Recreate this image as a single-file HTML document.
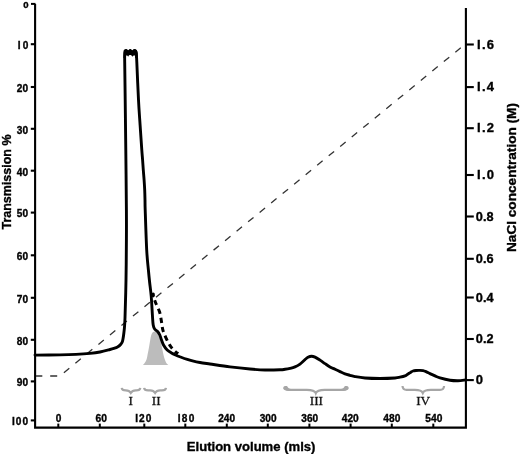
<!DOCTYPE html>
<html><head><meta charset="utf-8"><style>
html,body{margin:0;padding:0;background:#fff;width:520px;height:454px;overflow:hidden;}
svg{display:block;font-family:"Liberation Sans",sans-serif;will-change:transform;}
</style></head><body>
<svg width="520" height="454" viewBox="0 0 520 454">
<path d="M35.1,4 V427.6 H465.9 V8" fill="none" stroke="#000" stroke-width="2.1" stroke-linejoin="miter"/>
<path d="M31,3.9 H35.5" stroke="#000" stroke-width="2"/>
<path d="M30.8,44.2 H35" stroke="#000" stroke-width="2.1"/>
<path d="M30.8,87.0 H35" stroke="#000" stroke-width="2.1"/>
<path d="M30.8,128.8 H35" stroke="#000" stroke-width="2.1"/>
<path d="M30.8,170.7 H35" stroke="#000" stroke-width="2.1"/>
<path d="M30.8,212.6 H35" stroke="#000" stroke-width="2.1"/>
<path d="M30.8,255.3 H35" stroke="#000" stroke-width="2.1"/>
<path d="M30.8,297.8 H35" stroke="#000" stroke-width="2.1"/>
<path d="M30.8,339.8 H35" stroke="#000" stroke-width="2.1"/>
<path d="M30.8,381.4 H35" stroke="#000" stroke-width="2.1"/>
<path d="M30.8,420.4 H35" stroke="#000" stroke-width="2.1"/>
<path d="M58.3,427 V423.6" stroke="#000" stroke-width="2"/>
<path d="M99.8,427 V423.6" stroke="#000" stroke-width="2"/>
<path d="M144.3,427 V423.6" stroke="#000" stroke-width="2"/>
<path d="M185.3,427 V423.6" stroke="#000" stroke-width="2"/>
<path d="M226.8,427 V423.6" stroke="#000" stroke-width="2"/>
<path d="M267.8,427 V423.6" stroke="#000" stroke-width="2"/>
<path d="M309.4,427 V423.6" stroke="#000" stroke-width="2"/>
<path d="M350.6,427 V423.6" stroke="#000" stroke-width="2"/>
<path d="M391.8,427 V423.6" stroke="#000" stroke-width="2"/>
<path d="M433.3,427 V423.6" stroke="#000" stroke-width="2"/>
<path d="M466,44.5 H473.8" stroke="#000" stroke-width="2.1"/>
<path d="M466,87.1 H473.8" stroke="#000" stroke-width="2.1"/>
<path d="M466,128.2 H473.8" stroke="#000" stroke-width="2.1"/>
<path d="M466,175.0 H473.8" stroke="#000" stroke-width="2.1"/>
<path d="M466,216.5 H473.8" stroke="#000" stroke-width="2.1"/>
<path d="M466,258.8 H473.8" stroke="#000" stroke-width="2.1"/>
<path d="M466,297.5 H473.8" stroke="#000" stroke-width="2.1"/>
<path d="M466,339.0 H473.8" stroke="#000" stroke-width="2.1"/>
<path d="M466,380.1 H473.8" stroke="#000" stroke-width="2.1"/>
<text x="28.7" y="7.9" font-family="Liberation Sans" font-weight="bold" stroke="#000" stroke-width="0.35" font-size="9.6" text-anchor="end">0</text>
<text x="17.65" y="49.00" font-family="Liberation Sans" font-weight="bold" stroke="#000" stroke-width="0.35" font-size="10.1" textLength="10.60" lengthAdjust="spacing">I0</text>
<text x="28.1" y="91.8" font-family="Liberation Sans" font-weight="bold" stroke="#000" stroke-width="0.35" font-size="10.1" text-anchor="end">20</text>
<text x="28.1" y="133.6" font-family="Liberation Sans" font-weight="bold" stroke="#000" stroke-width="0.35" font-size="10.1" text-anchor="end">30</text>
<text x="28.1" y="175.5" font-family="Liberation Sans" font-weight="bold" stroke="#000" stroke-width="0.35" font-size="10.1" text-anchor="end">40</text>
<text x="28.1" y="217.4" font-family="Liberation Sans" font-weight="bold" stroke="#000" stroke-width="0.35" font-size="10.1" text-anchor="end">50</text>
<text x="28.1" y="260.1" font-family="Liberation Sans" font-weight="bold" stroke="#000" stroke-width="0.35" font-size="10.1" text-anchor="end">60</text>
<text x="28.1" y="302.6" font-family="Liberation Sans" font-weight="bold" stroke="#000" stroke-width="0.35" font-size="10.1" text-anchor="end">70</text>
<text x="28.1" y="344.6" font-family="Liberation Sans" font-weight="bold" stroke="#000" stroke-width="0.35" font-size="10.1" text-anchor="end">80</text>
<text x="28.1" y="386.2" font-family="Liberation Sans" font-weight="bold" stroke="#000" stroke-width="0.35" font-size="10.1" text-anchor="end">90</text>
<text x="11.95" y="425.20" font-family="Liberation Sans" font-weight="bold" stroke="#000" stroke-width="0.35" font-size="10.1" textLength="16.10" lengthAdjust="spacing">I00</text>
<text x="55.85" y="421.8" font-family="Liberation Sans" font-weight="bold" stroke="#000" stroke-width="0.35" font-size="10.1">0</text>
<text x="95.55" y="421.80" font-family="Liberation Sans" font-weight="bold" stroke="#000" stroke-width="0.35" font-size="10.1" textLength="11.40" lengthAdjust="spacingAndGlyphs">60</text>
<text x="135.15" y="421.80" font-family="Liberation Sans" font-weight="bold" stroke="#000" stroke-width="0.35" font-size="10.1" textLength="16.10" lengthAdjust="spacing">I20</text>
<text x="177.65" y="421.80" font-family="Liberation Sans" font-weight="bold" stroke="#000" stroke-width="0.35" font-size="10.1" textLength="16.70" lengthAdjust="spacing">I80</text>
<text x="218.25" y="421.80" font-family="Liberation Sans" font-weight="bold" stroke="#000" stroke-width="0.35" font-size="10.1" textLength="16.80" lengthAdjust="spacingAndGlyphs">240</text>
<text x="259.75" y="421.80" font-family="Liberation Sans" font-weight="bold" stroke="#000" stroke-width="0.35" font-size="10.1" textLength="16.80" lengthAdjust="spacingAndGlyphs">300</text>
<text x="301.35" y="421.80" font-family="Liberation Sans" font-weight="bold" stroke="#000" stroke-width="0.35" font-size="10.1" textLength="16.80" lengthAdjust="spacingAndGlyphs">360</text>
<text x="341.75" y="421.80" font-family="Liberation Sans" font-weight="bold" stroke="#000" stroke-width="0.35" font-size="10.1" textLength="17.00" lengthAdjust="spacingAndGlyphs">420</text>
<text x="383.35" y="421.80" font-family="Liberation Sans" font-weight="bold" stroke="#000" stroke-width="0.35" font-size="10.1" textLength="17.00" lengthAdjust="spacingAndGlyphs">480</text>
<text x="425.35" y="421.80" font-family="Liberation Sans" font-weight="bold" stroke="#000" stroke-width="0.35" font-size="10.1" textLength="17.00" lengthAdjust="spacingAndGlyphs">540</text>
<text x="477.07" y="48.60" font-family="Liberation Sans" font-weight="bold" stroke="#000" stroke-width="0.35" font-size="13.0" textLength="17.02" lengthAdjust="spacing">I.6</text>
<text x="477.07" y="91.20" font-family="Liberation Sans" font-weight="bold" stroke="#000" stroke-width="0.35" font-size="13.0" textLength="17.02" lengthAdjust="spacing">I.4</text>
<text x="477.07" y="132.30" font-family="Liberation Sans" font-weight="bold" stroke="#000" stroke-width="0.35" font-size="13.0" textLength="17.02" lengthAdjust="spacing">I.2</text>
<text x="477.07" y="179.10" font-family="Liberation Sans" font-weight="bold" stroke="#000" stroke-width="0.35" font-size="13.0" textLength="17.02" lengthAdjust="spacing">I.0</text>
<text x="475.85" y="220.60" font-family="Liberation Sans" font-weight="bold" stroke="#000" stroke-width="0.35" font-size="13.0" textLength="17.70" lengthAdjust="spacingAndGlyphs">0.8</text>
<text x="475.85" y="262.90" font-family="Liberation Sans" font-weight="bold" stroke="#000" stroke-width="0.35" font-size="13.0" textLength="17.70" lengthAdjust="spacingAndGlyphs">0.6</text>
<text x="475.85" y="301.60" font-family="Liberation Sans" font-weight="bold" stroke="#000" stroke-width="0.35" font-size="13.0" textLength="17.70" lengthAdjust="spacingAndGlyphs">0.4</text>
<text x="475.85" y="343.10" font-family="Liberation Sans" font-weight="bold" stroke="#000" stroke-width="0.35" font-size="13.0" textLength="17.70" lengthAdjust="spacingAndGlyphs">0.2</text>
<text x="475.8" y="384.2" font-family="Liberation Sans" font-weight="bold" stroke="#000" stroke-width="0.35" font-size="13.0">0</text>
<text transform="translate(10.8,229.5) rotate(-90)" font-family="Liberation Sans" font-weight="bold" stroke="#000" stroke-width="0.35" font-size="13" textLength="95" lengthAdjust="spacingAndGlyphs">Transmission %</text>
<text transform="translate(515.9,252) rotate(-90)" font-family="Liberation Sans" font-weight="bold" stroke="#000" stroke-width="0.35" font-size="13" textLength="149" lengthAdjust="spacingAndGlyphs">NaCl concentration (M)</text>
<text x="186.8" y="450.5" font-family="Liberation Sans" font-weight="bold" stroke="#000" stroke-width="0.35" font-size="13" textLength="128.6" lengthAdjust="spacingAndGlyphs">Elution volume (mls)</text>
<path d="M36,376 L59.8,376 L465,44.3" fill="none" stroke="#333" stroke-width="1.3" stroke-dasharray="7 7.88" stroke-dashoffset="0.68"/>
<path d="M143.00,365.00 C143.33,364.60 144.38,363.60 145.00,362.60 C145.62,361.60 146.27,360.37 146.70,359.00 C147.13,357.63 147.30,355.90 147.60,354.40 C147.90,352.90 148.20,351.57 148.50,350.00 C148.80,348.43 149.10,346.75 149.40,345.00 C149.70,343.25 149.98,341.17 150.30,339.50 C150.62,337.83 150.88,336.20 151.30,335.00 C151.72,333.80 152.25,332.88 152.80,332.30 C153.35,331.72 153.97,331.50 154.60,331.50 C155.23,331.50 155.93,331.72 156.60,332.30 C157.27,332.88 158.02,333.88 158.60,335.00 C159.18,336.12 159.67,337.58 160.10,339.00 C160.53,340.42 160.85,341.92 161.20,343.50 C161.55,345.08 161.88,346.92 162.20,348.50 C162.52,350.08 162.78,351.53 163.10,353.00 C163.42,354.47 163.72,355.97 164.10,357.30 C164.48,358.63 164.97,359.95 165.40,361.00 C165.83,362.05 166.22,362.93 166.70,363.60 C167.18,364.27 168.03,364.77 168.30,365.00 Z" fill="#bcbcbc"/>
<path d="M35.00,355.10 C39.17,355.07 53.17,355.02 60.00,354.90 C66.83,354.78 71.00,354.65 76.00,354.40 C81.00,354.15 86.00,353.80 90.00,353.40 C94.00,353.00 96.67,352.65 100.00,352.00 C103.33,351.35 107.67,350.12 110.00,349.50 C112.33,348.88 112.75,348.73 114.00,348.30 C115.25,347.87 116.40,347.53 117.50,346.90 C118.60,346.27 119.75,345.52 120.60,344.50 C121.45,343.48 122.00,343.22 122.60,340.80 C123.20,338.38 123.80,333.80 124.20,330.00 C124.60,326.20 124.70,326.33 125.00,318.00 C125.30,309.67 125.77,293.00 126.00,280.00 C126.23,267.00 126.33,251.67 126.40,240.00 C126.47,228.33 126.50,225.00 126.40,210.00 C126.30,195.00 126.00,168.33 125.80,150.00 C125.60,131.67 125.38,114.67 125.20,100.00 C125.02,85.33 124.78,69.33 124.70,62.00 C124.62,54.67 124.70,57.00 124.70,56.00 C124.7,52.5 125,50.6 126.2,50.6 C127.3,50.6 127.7,53.6 128.2,53.6 C128.8,53.6 129.2,50.6 130.2,50.6 C131.3,50.6 131.7,53.6 132.3,53.6 C132.9,53.6 133.3,50.6 134.4,50.6 C135.8,50.6 136.5,52.5 136.5,56 C136.55,57.00 136.47,54.67 136.80,62.00 C137.13,69.33 137.95,89.50 138.50,100.00 C139.05,110.50 139.55,116.67 140.10,125.00 C140.65,133.33 141.38,144.17 141.80,150.00 C142.22,155.83 142.35,156.67 142.60,160.00 C142.85,163.33 143.05,166.67 143.30,170.00 C143.55,173.33 143.87,176.67 144.10,180.00 C144.33,183.33 144.55,186.67 144.70,190.00 C144.85,193.33 144.92,196.67 145.00,200.00 C145.08,203.33 144.92,201.67 145.20,210.00 C145.48,218.33 146.17,240.00 146.70,250.00 C147.23,260.00 147.92,264.67 148.40,270.00 C148.88,275.33 149.13,277.67 149.60,282.00 C150.07,286.33 150.73,290.50 151.20,296.00 C151.67,301.50 152.07,310.17 152.40,315.00 C152.73,319.83 152.80,322.62 153.20,325.00 C153.60,327.38 154.07,328.22 154.80,329.30 C155.53,330.38 156.77,330.55 157.60,331.50 C158.43,332.45 159.15,333.58 159.80,335.00 C160.45,336.42 160.88,338.33 161.50,340.00 C162.12,341.67 162.55,343.33 163.50,345.00 C164.45,346.67 165.87,348.67 167.20,350.00 C168.53,351.33 170.12,352.17 171.50,353.00 C172.88,353.83 174.00,354.33 175.50,355.00 C177.00,355.67 178.53,356.27 180.50,357.00 C182.47,357.73 185.13,358.70 187.30,359.40 C189.47,360.10 191.38,360.68 193.50,361.20 C195.62,361.72 197.25,362.03 200.00,362.50 C202.75,362.97 205.00,363.27 210.00,364.00 C215.00,364.73 223.33,366.07 230.00,366.90 C236.67,367.73 244.17,368.48 250.00,369.00 C255.83,369.52 260.00,369.87 265.00,370.00 C270.00,370.13 276.67,369.92 280.00,369.80 C283.33,369.68 283.33,369.53 285.00,369.30 C286.67,369.07 288.33,368.80 290.00,368.40 C291.67,368.00 293.33,367.62 295.00,366.90 C296.67,366.18 298.33,365.32 300.00,364.10 C301.67,362.88 303.67,360.73 305.00,359.60 C306.33,358.47 306.92,357.87 308.00,357.30 C309.08,356.73 310.33,356.23 311.50,356.20 C312.67,356.17 313.58,356.45 315.00,357.10 C316.42,357.75 318.33,359.02 320.00,360.10 C321.67,361.18 323.33,362.47 325.00,363.60 C326.67,364.73 328.33,365.95 330.00,366.90 C331.67,367.85 333.33,368.52 335.00,369.30 C336.67,370.08 338.33,370.85 340.00,371.60 C341.67,372.35 343.33,373.18 345.00,373.80 C346.67,374.42 348.33,374.83 350.00,375.30 C351.67,375.77 352.50,376.15 355.00,376.60 C357.50,377.05 360.83,377.68 365.00,378.00 C369.17,378.32 375.00,378.50 380.00,378.50 C385.00,378.50 391.67,378.22 395.00,378.00 C398.33,377.78 398.33,377.55 400.00,377.20 C401.67,376.85 403.67,376.43 405.00,375.90 C406.33,375.37 407.08,374.58 408.00,374.00 C408.92,373.42 409.67,372.90 410.50,372.40 C411.33,371.90 412.08,371.32 413.00,371.00 C413.92,370.68 414.83,370.60 416.00,370.50 C417.17,370.40 418.83,370.37 420.00,370.40 C421.17,370.43 422.00,370.48 423.00,370.70 C424.00,370.92 424.83,371.22 426.00,371.70 C427.17,372.18 428.50,372.90 430.00,373.60 C431.50,374.30 433.33,375.18 435.00,375.90 C436.67,376.62 437.50,377.18 440.00,377.90 C442.50,378.62 447.00,379.73 450.00,380.20 C453.00,380.67 455.42,380.73 458.00,380.70 C460.58,380.67 464.25,380.12 465.50,380.00" fill="none" stroke="#000" stroke-width="2.9" stroke-linejoin="round" stroke-linecap="round"/>
<path d="M123.5,58 L123.5,52 C123.5,50 124.5,49.1 126.1,49.1 C127.3,49.1 127.8,50.4 128.2,50.4 C128.6,50.4 129.1,49.1 130.2,49.1 C131.3,49.1 131.9,50.4 132.3,50.4 C132.7,50.4 133.2,49.1 134.4,49.1 C136.3,49.1 137.6,50.5 137.6,53 L137.8,58 L135.2,58 L135.1,55.6 C134.2,55.3 133,55.6 132.3,56.7 C131.6,55.4 130.8,55.1 130.2,55.1 C129.5,55.1 128.8,55.4 128.2,56.7 C127.6,55.5 126.8,55.3 126.0,55.6 L126.0,58 Z" fill="#000"/>
<path d="M153.00,295.50 C153.43,296.70 154.50,299.95 155.60,302.70 C156.70,305.45 158.63,308.92 159.60,312.00 C160.57,315.08 160.85,318.18 161.40,321.20 C161.95,324.22 162.10,327.25 162.90,330.10 C163.70,332.95 164.92,335.60 166.20,338.30 C167.48,341.00 169.05,344.05 170.60,346.30 C172.15,348.55 174.22,350.58 175.50,351.80 C176.78,353.02 177.83,353.30 178.30,353.60" fill="none" stroke="#000" stroke-width="3" stroke-dasharray="5.3 4" stroke-dashoffset="4.3"/>
<ellipse cx="153.2" cy="295" rx="1.7" ry="2.4" fill="#000"/>
<path d="M121.70,387.80 Q122.00,390.40 125.80,390.40 L125.80,390.40 C128.80,390.40 129.80,391.20 130.80,392.80 C131.80,391.20 132.80,390.40 135.80,390.40 L136.20,390.40 Q140.00,390.40 140.30,387.80" fill="none" stroke="#a6a6a6" stroke-width="2.2"/>
<path d="M144.10,387.80 Q144.40,390.40 148.20,390.40 L150.10,390.40 C153.10,390.40 154.10,391.20 155.10,392.80 C156.10,391.20 157.10,390.40 160.10,390.40 L161.90,390.40 Q165.70,390.40 166.00,387.80" fill="none" stroke="#a6a6a6" stroke-width="2.2"/>
<path d="M284.20,387.60 Q284.50,389.80 288.30,389.80 L306.80,389.80 C312.20,389.80 314.80,390.60 315.80,393.20 C316.80,390.60 319.40,389.80 324.80,389.80 L343.60,389.80 Q347.40,389.80 347.70,387.60" fill="none" stroke="#a6a6a6" stroke-width="2.2"/>
<path d="M283.39,387.20 C283.49,386.10 286.10,385.72 287.22,386.20 C287.78,387.00 288.34,388.60 290.30,388.80 L290.30,390.40 C286.10,390.60 283.30,389.80 283.39,387.20 Z M348.51,387.20 C348.41,386.10 345.80,385.72 344.68,386.20 C344.12,387.00 343.56,388.60 341.60,388.80 L341.60,390.40 C345.80,390.60 348.60,389.80 348.51,387.20 Z" fill="#a6a6a6"/>
<path d="M402.50,386.00 Q402.80,389.90 406.60,389.90 L414.80,389.90 C419.60,389.90 421.80,390.70 422.80,393.00 C423.80,390.70 426.00,389.90 430.80,389.90 L440.00,389.90 Q443.80,389.90 444.10,386.00" fill="none" stroke="#a6a6a6" stroke-width="2.2"/>
<text x="130.8" y="405.1" font-family="Liberation Serif" font-size="13.3" text-anchor="middle" fill="#111" stroke="#111" stroke-width="0.3">I</text>
<text x="156.2" y="405.1" font-family="Liberation Serif" font-size="13.3" text-anchor="middle" fill="#111" stroke="#111" stroke-width="0.3">II</text>
<text x="316.4" y="405.1" font-family="Liberation Serif" font-size="13.3" text-anchor="middle" fill="#111" stroke="#111" stroke-width="0.3">III</text>
<text x="423.2" y="405.1" font-family="Liberation Serif" font-size="13.3" text-anchor="middle" fill="#111" stroke="#111" stroke-width="0.3">IV</text>
</svg>
</body></html>
